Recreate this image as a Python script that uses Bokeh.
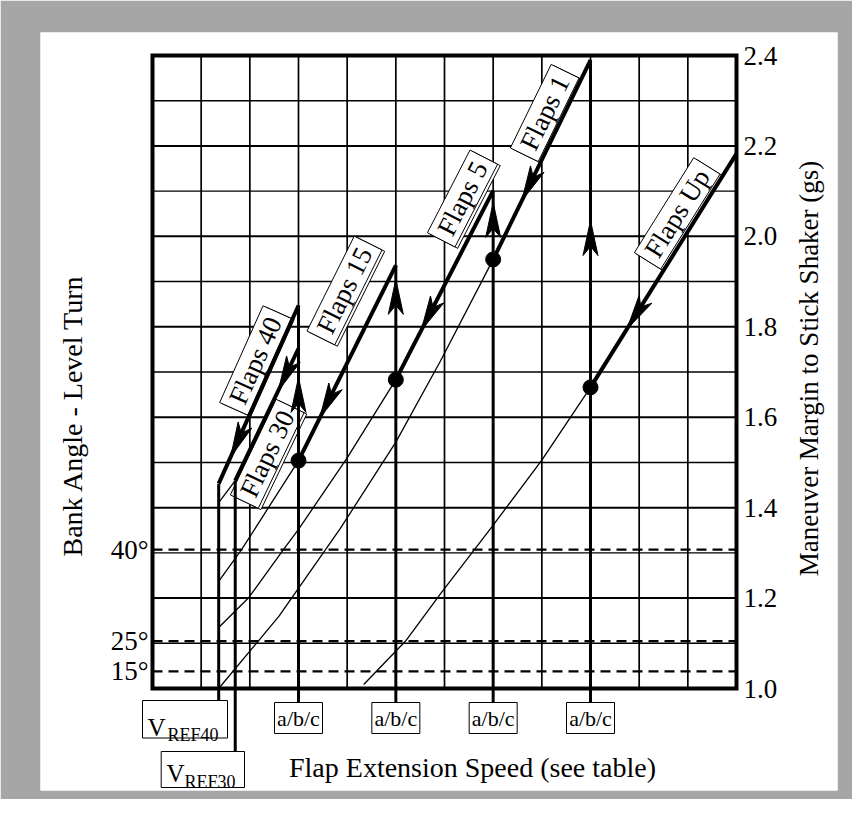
import math
from bokeh.plotting import figure
from bokeh.models import Range1d
from bokeh.embed import file_html
from bokeh.resources import INLINE
from bokeh.core.properties import value

# ---------------- data ----------------
g_ticks = [1.0, 1.2, 1.4, 1.6, 1.8, 2.0, 2.2, 2.4]
g_tick_labels = ["1.0", "1.2", "1.4", "1.6", "1.8", "2.0", "2.2", "2.4"]
g_minor_lines = [1.1, 1.3, 1.5, 1.7, 1.9, 2.1, 2.3]
g_major_lines = [1.2, 1.4, 1.6, 1.8, 2.0, 2.2]
speed_lines = [1, 2, 3, 4, 5, 6, 7, 8, 9, 10, 11]
speed_min, speed_max = 0, 12
g_min, g_max = 1.0, 2.4

bank_labels = ["15°", "25°", "40°"]
bank_load_g = [1.038, 1.105, 1.307]

speed_cols = [3, 5, 7, 9]
speed_labels = ["a/b/c", "a/b/c", "a/b/c", "a/b/c"]
speed_col_top_g = [1.847, 1.936, 2.101, 2.39]
speed_arrow_g = [1.688, 1.905, 2.075, 2.035]

vref_subs = ["REF40", "REF30"]
vref_x = [1.36, 1.70]
vref_top_g = [1.453, 1.460]

flap_names = ["Flaps 40", "Flaps 30", "Flaps 15", "Flaps 5", "Flaps 1", "Flaps Up"]
flap_x0 = [1.36, 1.70, 3.0, 5.0, 7.0, 9.0]
flap_g0 = [1.453, 1.460, 1.504, 1.683, 1.949, 1.666]
flap_x1 = [3.0, 3.0, 5.0, 7.0, 9.0, 12.0]
flap_g1 = [1.847, 1.752, 1.936, 2.101, 2.39, 2.183]
flap_arrow_t = [0.15, 0.68, 0.22, 0.26, 0.295, 0.25]

dot_x = [3.0, 5.0, 7.0, 9.0]
dot_g = [1.504, 1.683, 1.949, 1.666]

thin_f30_x = [1.36, 1.70]
thin_f30_g = [1.411, 1.460]
thin_f15_x = [1.36, 1.83, 3.0]
thin_f15_g = [1.237, 1.307, 1.504]
thin_f5_x = [1.36, 1.97, 2.69, 3.0, 4.0, 5.0]
thin_f5_g = [1.135, 1.200, 1.307, 1.352, 1.510, 1.683]
thin_f1_x = [1.36, 2.6, 3.86, 5.0, 5.92, 7.0]
thin_f1_g = [1.0, 1.160, 1.354, 1.545, 1.725, 1.949]
thin_up_x = [4.34, 5.2, 5.92, 6.95, 8.0, 9.0]
thin_up_g = [1.009, 1.105, 1.210, 1.354, 1.505, 1.666]

# ---------------- layout (screen) ----------------
W, H = 852, 799
BL, BR, BT, BB = 40, 15, 32, 9
FW, FH = W - BL - BR, H - BT - BB
PX_X = 48.667      # px per speed unit
PX_G = 452.14      # px per g
ORIG_X = 112       # px from frame left to speed 0
ORIG_Y = 102       # px from frame bottom to g = 1.0
x_start = speed_min - ORIG_X / PX_X
x_end = x_start + FW / PX_X
y_start = g_min - ORIG_Y / PX_G
y_end = y_start + FH / PX_G

# reference-page pixel helpers (layout positions only)
def xp(px):
    return (px - 152) / PX_X

def gp(py):
    return 1.0 + (688 - py) / PX_G

FONT = value("Liberation Serif")
BLACK = "black"

p = figure(width=W, height=H, x_range=Range1d(x_start, x_end), y_range=Range1d(y_start, y_end),
           output_backend="svg", toolbar_location=None, tools="", title=None,
           x_axis_location=None, y_axis_location=None,
           min_border_left=BL, min_border_right=BR, min_border_top=BT, min_border_bottom=BB,
           background_fill_color="white", border_fill_color="#a6a6a6", outline_line_color=None)
p.xgrid.grid_line_color = None
p.ygrid.grid_line_color = None

# grid
n = len(speed_lines)
p.segment(x0=speed_lines, y0=[g_min] * n, x1=speed_lines, y1=[g_max] * n,
          line_color=BLACK, line_width=1.7)
p.segment(x0=[speed_min] * len(g_minor_lines), y0=g_minor_lines,
          x1=[speed_max] * len(g_minor_lines), y1=g_minor_lines, line_color=BLACK, line_width=1.4)
p.segment(x0=[speed_min] * len(g_major_lines), y0=g_major_lines,
          x1=[speed_max] * len(g_major_lines), y1=g_major_lines, line_color=BLACK, line_width=2.0)
# bank angle dashed lines
p.segment(x0=[speed_min] * 3, y0=bank_load_g, x1=[speed_max] * 3, y1=bank_load_g,
          line_color=BLACK, line_width=2.2, line_dash="10 6")
# frame
p.rect(x=[(speed_min + speed_max) / 2], y=[(g_min + g_max) / 2], width=speed_max - speed_min,
       height=g_max - g_min, fill_color=None, line_color=BLACK, line_width=4, line_join="miter")

# thin curves
for cx, cg in [(thin_f30_x, thin_f30_g), (thin_f15_x, thin_f15_g), (thin_f5_x, thin_f5_g),
               (thin_f1_x, thin_f1_g), (thin_up_x, thin_up_g)]:
    p.line(cx, cg, line_color=BLACK, line_width=1.3)

# flap labels (boxes)
label_center_px = [(255, 360), (266.7, 453.3), (344, 290), (462, 198), (544.2, 112.5), (676.7, 212.9)]
label_box_w = [106, 106, 106, 93, 93, 112]
label_box_h = 31
angles = []
for i in range(len(flap_names)):
    dx = (flap_x1[i] - flap_x0[i]) * PX_X
    dy = (flap_g1[i] - flap_g0[i]) * PX_G
    angles.append(math.atan2(dy, dx))
lx = [xp(c[0]) for c in label_center_px]
ly = [gp(c[1]) for c in label_center_px]
sh = 3.0
sx = [lx[i] + sh * math.sin(a) / PX_X for i, a in enumerate(angles)]
sy = [ly[i] - sh * math.cos(a) / PX_G for i, a in enumerate(angles)]
p.rect(x=sx, y=sy, width=label_box_w, height=[label_box_h] * 6, angle=angles,
       width_units="screen", height_units="screen", fill_color="white",
       line_color=BLACK, line_width=1)
p.rect(x=lx, y=ly, width=label_box_w, height=[label_box_h] * 6, angle=angles,
       width_units="screen", height_units="screen", fill_color="white",
       line_color=BLACK, line_width=1)
p.text(x=lx, y=ly, text=flap_names, angle=angles, text_font=FONT, text_font_size="27px",
       text_align="center", text_baseline="middle", text_color=BLACK)

# thick vertical lines (speeds)
abc_box_top_g = gp(702)
p.segment(x0=speed_cols, y0=[abc_box_top_g] * 4, x1=speed_cols, y1=speed_col_top_g,
          line_color=BLACK, line_width=3)
vref_box_top_g = [gp(700), gp(751)]
p.segment(x0=vref_x, y0=vref_box_top_g, x1=vref_x, y1=vref_top_g,
          line_color=BLACK, line_width=3)

# thick flap lines
p.segment(x0=flap_x0, y0=flap_g0, x1=flap_x1, y1=flap_g1, line_color=BLACK, line_width=4)

# arrowheads
def arrow(xt, gt, ux, uy, L=35.0, Wd=15.0, N=9.0):
    nx, ny = -uy, ux
    pts = [(0.0, 0.0),
           (-L * ux + Wd / 2 * nx, -L * uy + Wd / 2 * ny),
           (-(L - N) * ux, -(L - N) * uy),
           (-L * ux - Wd / 2 * nx, -L * uy - Wd / 2 * ny)]
    return [xt + a / PX_X for a, _ in pts], [gt + b / PX_G for _, b in pts]

axs, ays = [], []
for i in range(len(flap_names)):
    t = flap_arrow_t[i]
    xt = flap_x0[i] + t * (flap_x1[i] - flap_x0[i])
    gt = flap_g0[i] + t * (flap_g1[i] - flap_g0[i])
    dx = (flap_x0[i] - flap_x1[i]) * PX_X
    dy = (flap_g0[i] - flap_g1[i]) * PX_G
    d = math.hypot(dx, dy)
    a, b = arrow(xt, gt, dx / d, dy / d)
    axs.append(a); ays.append(b)
for i in range(len(speed_cols)):
    a, b = arrow(speed_cols[i], speed_arrow_g[i], 0.0, 1.0)
    axs.append(a); ays.append(b)
p.patches(axs, ays, fill_color=BLACK, line_color=BLACK, line_width=1)

# dots
p.scatter(dot_x, dot_g, size=15, marker="circle", fill_color=BLACK, line_color=BLACK)

# right axis labels
p.text(x=[speed_max] * len(g_ticks), y=g_ticks, text=g_tick_labels, x_offset=7,
       text_font=FONT, text_font_size="27px", text_align="left", text_baseline="middle",
       text_color=BLACK)
# left bank-angle labels
p.text(x=[speed_min] * 3, y=bank_load_g, text=bank_labels, x_offset=-4,
       text_font=FONT, text_font_size="27px", text_align="right", text_baseline="middle",
       text_color=BLACK)

# axis titles
p.text(x=[xp(72)], y=[gp(415)], text=["Bank Angle - Level Turn"], angle=math.pi / 2,
       text_font=FONT, text_font_size="28px", text_align="center", text_baseline="middle",
       text_color=BLACK)
p.text(x=[xp(808)], y=[gp(368)], text=["Maneuver Margin to Stick Shaker (gs)"], angle=math.pi / 2,
       text_font=FONT, text_font_size="27px", text_align="center", text_baseline="middle",
       text_color=BLACK)
p.text(x=[xp(472)], y=[gp(767)], text=["Flap Extension Speed (see table)"],
       text_font=FONT, text_font_size="28px", text_align="center", text_baseline="middle",
       text_color=BLACK)

# a/b/c boxes
p.rect(x=speed_cols, y=[gp(717.5)] * 4, width=[48] * 4, height=[31] * 4,
       width_units="screen", height_units="screen", fill_color="white",
       line_color=BLACK, line_width=1)
p.text(x=speed_cols, y=[gp(717.5)] * 4, text=speed_labels, text_font=FONT, text_font_size="22px",
       text_align="center", text_baseline="middle", text_color=BLACK)

# VREF boxes
vref_box = [(142, 227, 700, 737.5), (160.7, 244, 751, 787)]
vref_v_pos = [(147, 727), (166, 773)]
vref_sub_pos = [(167, 734), (184, 781)]
for i in range(2):
    l, r, t, b = vref_box[i]
    p.rect(x=[xp((l + r) / 2)], y=[gp((t + b) / 2)], width=[r - l], height=[b - t],
           width_units="screen", height_units="screen", fill_color="white",
           line_color=BLACK, line_width=1)
    p.text(x=[xp(vref_v_pos[i][0])], y=[gp(vref_v_pos[i][1])], text=["V"], text_font=FONT,
           text_font_size="25px", text_align="left", text_baseline="alphabetic", text_color=BLACK)
    p.text(x=[xp(vref_sub_pos[i][0])], y=[gp(vref_sub_pos[i][1])], text=[vref_subs[i]],
           text_font=FONT, text_font_size="18px", text_align="left", text_baseline="alphabetic",
           text_color=BLACK)

open("out.html", "w").write(file_html(p, INLINE))
